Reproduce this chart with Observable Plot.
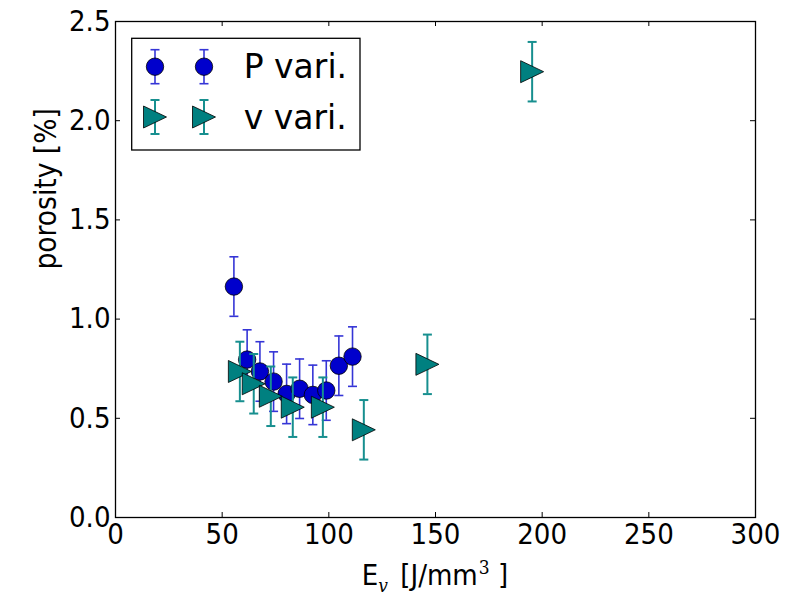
<!DOCTYPE html>
<html>
<head>
<meta charset="utf-8">
<script src="https://cdn.jsdelivr.net/npm/d3@7"></script>
<script src="https://cdn.jsdelivr.net/npm/@observablehq/plot@0.6"></script>
<style>
  body { margin: 0; background: #fff; }
  #wrap { position: relative; width: 811px; height: 595px; background: #fff; }
  #xlabel { position: absolute; left: 235px; width: 400px; top: 558px; text-align: center;
            font-family: 'DejaVu Sans Condensed', 'DejaVu Sans', sans-serif; font-stretch: condensed;
            font-size: 29px; line-height: 34px; color: #000; white-space: nowrap; }
  #xlabel .sub { font-family: 'DejaVu Serif', serif; font-style: italic; font-size: 19px; position: relative; top: 7px; line-height: 0; margin-right: 4px; }
  #xlabel .sup { font-family: 'DejaVu Serif', serif; font-size: 19px; position: relative; top: -11px; line-height: 0; margin-left: 1px; }
  #legend { position: absolute; left: 0; top: 0; pointer-events: none; }
</style>
</head>
<body>
<div id="wrap"></div>
<script>
// ---- data ----
const pEnergy   = [55.5, 61.7, 67.7, 74.1, 80.2, 86.3, 92.5, 98.8, 104.7, 111.1];
const pPorosity = [1.164, 0.796, 0.736, 0.685, 0.623, 0.649, 0.618, 0.640, 0.765, 0.811];
const pError    = [0.15, 0.15, 0.15, 0.15, 0.15, 0.15, 0.15, 0.15, 0.15, 0.15];

const vEnergy   = [58.3, 64.8, 72.8, 83.1, 97.2, 116.4, 146.2, 195.3];
const vPorosity = [0.736, 0.674, 0.611, 0.556, 0.556, 0.442, 0.772, 2.247];
const vError    = [0.15, 0.15, 0.15, 0.15, 0.15, 0.15, 0.15, 0.15];

const xTicks = [0, 50, 100, 150, 200, 250, 300];
const yTicks = [0, 0.5, 1.0, 1.5, 2.0, 2.5];
const seriesNames = ["P vari.", "v vari."];
const yLabel = "porosity [%]";
const xLabelMain = "E", xLabelSub = "v", xLabelUnit = " [J/mm", xLabelSup = "3", xLabelEnd = " ]";

// ---- style ----
const W = 811, H = 595;
const mL = 115, mR = 56, mT = 21, mB = 78;
const innerW = W - mL - mR, innerH = H - mT - mB;
const tickLen = 5;
const pFill = "#0000cc", pErr = "#3535d6";
const vFill = "#008080", vErr = "#178f8f";
const tickFont = "'DejaVu Sans Condensed', 'DejaVu Sans', sans-serif";

const pData = pEnergy.map((x, i) => ({x, y: pPorosity[i], e: pError[i]}));
const vData = vEnergy.map((x, i) => ({x, y: vPorosity[i], e: vError[i]}));

const capSym = {draw(c) { c.moveTo(-4.5, 0); c.lineTo(4.5, 0); }};
const triSym = {draw(c) { c.moveTo(11.5, 0); c.lineTo(-11.5, -11); c.lineTo(-11.5, 11); c.closePath(); }};

function errorMarks(data, color, width) {
  return [
    Plot.ruleX(data, {x: "x", y1: d => d.y - d.e, y2: d => d.y + d.e, stroke: color, strokeWidth: width}),
    Plot.dot(data, {x: "x", y: d => d.y - d.e, symbol: capSym, stroke: color, strokeWidth: width, fill: "none"}),
    Plot.dot(data, {x: "x", y: d => d.y + d.e, symbol: capSym, stroke: color, strokeWidth: width, fill: "none"})
  ];
}

const chart = Plot.plot({
  width: W, height: H,
  marginLeft: mL, marginRight: mR, marginTop: mT, marginBottom: mB,
  x: {domain: [0, 300]},
  y: {domain: [0, 2.5]},
  style: {fontFamily: tickFont, fontSize: "29px", color: "black", background: "white", overflow: "visible", fontStretch: "condensed"},
  marks: [
    Plot.axisX({ticks: xTicks, tickSize: 0, tickPadding: 6, label: null, fontSize: 29}),
    Plot.axisY({ticks: yTicks, tickSize: 0, tickPadding: 5, label: null, fontSize: 29, tickFormat: d3.format(".1f")}),
    Plot.tickX(xTicks, {x: d => d, insetTop: innerH - tickLen, stroke: "black", strokeWidth: 1}),
    Plot.tickX(xTicks, {x: d => d, insetBottom: innerH - tickLen, stroke: "black", strokeWidth: 1}),
    Plot.tickY(yTicks, {y: d => d, insetRight: innerW - tickLen, stroke: "black", strokeWidth: 1}),
    Plot.tickY(yTicks, {y: d => d, insetLeft: innerW - tickLen, stroke: "black", strokeWidth: 1}),
    ...errorMarks(pData, pErr, 1.6),
    Plot.dot(pData, {x: "x", y: "y", r: 8.7, fill: pFill, stroke: "black", strokeWidth: 0.8}),
    ...errorMarks(vData, vErr, 2),
    Plot.dot(vData, {x: "x", y: "y", symbol: triSym, fill: vFill, stroke: "black", strokeWidth: 0.8}),
    Plot.frame({stroke: "black", strokeWidth: 1.3}),
    Plot.text([yLabel], {frameAnchor: "left", rotate: -90, dx: -69, fontSize: 29.5, fontFamily: "DejaVu Sans", text: d => d, fill: "black"})
  ]
});

const wrap = document.getElementById("wrap");
wrap.appendChild(chart);

// x label with subscript / superscript
const xl = document.createElement("div");
xl.id = "xlabel";
xl.innerHTML = `${xLabelMain}<span class="sub">${xLabelSub}</span>${xLabelUnit}<span class="sup">${xLabelSup}</span>${xLabelEnd}`;
wrap.appendChild(xl);

// legend (overlay)
const legendBox = {x: 131.7, y: 38.3, w: 228.3, h: 111.7};
const rowsY = [28.4, 78.7];
const textY = [39.4, 90.6];
const markX = [23.3, 72.3];
const leg = d3.create("svg").attr("id", "legend").attr("width", W).attr("height", H);
const g = leg.append("g").attr("transform", `translate(${legendBox.x},${legendBox.y})`);
g.append("rect").attr("width", legendBox.w).attr("height", legendBox.h)
  .attr("fill", "white").attr("stroke", "black").attr("stroke-width", 1.3);
const series = [
  {name: seriesNames[0], fill: pFill, err: pErr, ew: 1.6, kind: "circle"},
  {name: seriesNames[1], fill: vFill, err: vErr, ew: 2, kind: "tri"}
];
series.forEach((s, i) => {
  const cy = rowsY[i];
  markX.forEach(cx => {
    const eg = g.append("g").attr("stroke", s.err).attr("stroke-width", s.ew);
    eg.append("line").attr("x1", cx).attr("x2", cx).attr("y1", cy - 17).attr("y2", cy + 17);
    eg.append("line").attr("x1", cx - 4.5).attr("x2", cx + 4.5).attr("y1", cy - 17).attr("y2", cy - 17);
    eg.append("line").attr("x1", cx - 4.5).attr("x2", cx + 4.5).attr("y1", cy + 17).attr("y2", cy + 17);
    if (s.kind === "circle") {
      g.append("circle").attr("cx", cx).attr("cy", cy).attr("r", 8.7)
        .attr("fill", s.fill).attr("stroke", "black").attr("stroke-width", 0.8);
    } else {
      g.append("path").attr("d", `M${cx + 11.5},${cy}L${cx - 11.5},${cy - 11}L${cx - 11.5},${cy + 11}Z`)
        .attr("fill", s.fill).attr("stroke", "black").attr("stroke-width", 0.8);
    }
  });
  g.append("text").attr("x", 112).attr("y", textY[i]).text(s.name)
    .attr("font-family", "'DejaVu Sans', sans-serif").attr("font-size", 33).attr("fill", "black");
});
wrap.appendChild(leg.node());
</script>
</body>
</html>
